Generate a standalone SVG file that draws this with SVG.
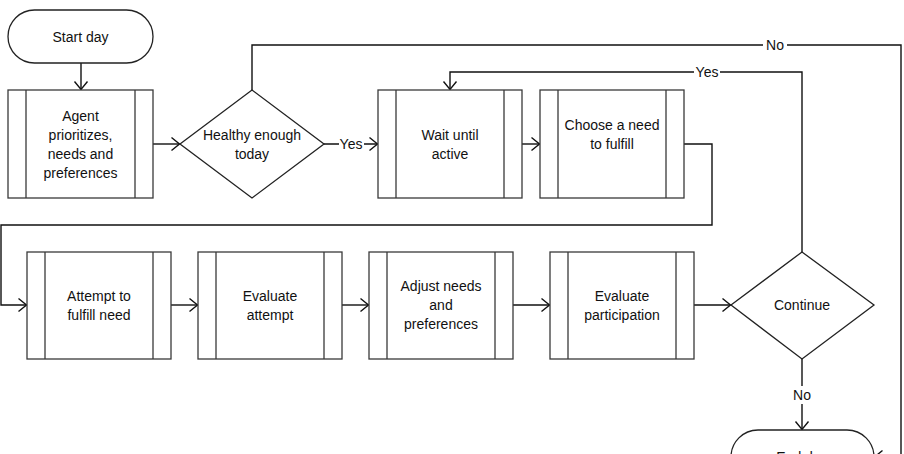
<svg xmlns="http://www.w3.org/2000/svg" width="904" height="454" viewBox="0 0 904 454">
<style>
.box{fill:#fff;stroke:#3a3a3a;stroke-width:1.3}
.in{stroke:#3a3a3a;stroke-width:1.3;fill:none}
.term{fill:#fff;stroke:#222;stroke-width:1.3}
.dec{fill:#fff;stroke:#222;stroke-width:1.3}
.c{fill:none;stroke:#111;stroke-width:1.4}
text{font-family:"Liberation Sans",Arial,sans-serif;font-size:14px;fill:#111;text-anchor:middle}
.lbg{fill:#fff}
</style>
<defs>
<marker id="ah" markerUnits="userSpaceOnUse" markerWidth="12" markerHeight="16" viewBox="-10 -8 12 16" refX="0" refY="0" orient="auto">
<path d="M-8,-6.5 L0,0 L-8,6.5" fill="none" stroke="#111" stroke-width="1.4"/>
</marker>
</defs>
<rect width="904" height="454" fill="#fff"/>
<g id="connectors">
<path class="c" d="M81,63 V89.5" marker-end="url(#ah)"/>
<path class="c" d="M153,144 H179.5" marker-end="url(#ah)"/>
<path class="c" d="M324,144 H377.5" marker-end="url(#ah)"/>
<path class="c" d="M522,144 H539.5" marker-end="url(#ah)"/>
<path class="c" d="M684,144 H712 V225 H1 V305 H26.5" marker-end="url(#ah)"/>
<path class="c" d="M171,305 H197.5" marker-end="url(#ah)"/>
<path class="c" d="M342,305 H368.5" marker-end="url(#ah)"/>
<path class="c" d="M513,305 H549.5" marker-end="url(#ah)"/>
<path class="c" d="M694,305 H730.5" marker-end="url(#ah)"/>
<path class="c" d="M802,252 V72 H450 V89.5" marker-end="url(#ah)"/>
<path class="c" d="M802,359 V429.5" marker-end="url(#ah)"/>
<path class="c" d="M252,90 V45 H901 V457 H874.5" marker-end="url(#ah)"/>
<rect class="lbg" x="339" y="136" width="25" height="16"/>
<text x="351" y="149">Yes</text>
<rect class="lbg" x="694" y="64" width="26" height="16"/>
<text x="707" y="77">Yes</text>
<rect class="lbg" x="763" y="37" width="24" height="16"/>
<text x="775" y="50">No</text>
<rect class="lbg" x="790" y="386" width="24" height="18"/>
<text x="802" y="400">No</text>
</g>
<g id="start">
<rect class="term" x="8" y="10" width="145" height="53" rx="26.5"/>
<text x="80.5" y="42">Start day</text>
</g>
<g id="prioritize">
<rect class="box" x="8" y="90" width="145" height="108"/>
<path class="in" d="M26,90 V198 M135,90 V198"/>
<text x="80.5" y="121">Agent</text>
<text x="80.5" y="140">prioritizes,</text>
<text x="80.5" y="159">needs and</text>
<text x="80.5" y="178">preferences</text>
</g>
<g id="healthy">
<path class="dec" d="M180,144 L252,90 L324,144 L252,198 Z"/>
<text x="252" y="140">Healthy enough</text>
<text x="252" y="159">today</text>
</g>
<g id="wait">
<rect class="box" x="378" y="90" width="144" height="108"/>
<path class="in" d="M396,90 V198 M504,90 V198"/>
<text x="450" y="140">Wait until</text>
<text x="450" y="159">active</text>
</g>
<g id="choose">
<rect class="box" x="540" y="90" width="144" height="108"/>
<path class="in" d="M558,90 V198 M666,90 V198"/>
<text x="612" y="130">Choose a need</text>
<text x="612" y="149">to fulfill</text>
</g>
<g id="attempt">
<rect class="box" x="27" y="252" width="144" height="107"/>
<path class="in" d="M45,252 V359 M153,252 V359"/>
<text x="99" y="301">Attempt to</text>
<text x="99" y="320">fulfill need</text>
</g>
<g id="evalattempt">
<rect class="box" x="198" y="252" width="144" height="107"/>
<path class="in" d="M216,252 V359 M324,252 V359"/>
<text x="270" y="301">Evaluate</text>
<text x="270" y="320">attempt</text>
</g>
<g id="adjust">
<rect class="box" x="369" y="252" width="144" height="107"/>
<path class="in" d="M387,252 V359 M495,252 V359"/>
<text x="441" y="291">Adjust needs</text>
<text x="441" y="310">and</text>
<text x="441" y="329">preferences</text>
</g>
<g id="evalpart">
<rect class="box" x="550" y="252" width="144" height="107"/>
<path class="in" d="M568,252 V359 M676,252 V359"/>
<text x="622" y="301">Evaluate</text>
<text x="622" y="320">participation</text>
</g>
<g id="continue">
<path class="dec" d="M731,305 L802,252 L874,305 L802,359 Z"/>
<text x="802" y="310">Continue</text>
</g>
<g id="end">
<rect class="term" x="731" y="430" width="143" height="54" rx="27"/>
<text x="802" y="462">End day</text>
</g>
</svg>
